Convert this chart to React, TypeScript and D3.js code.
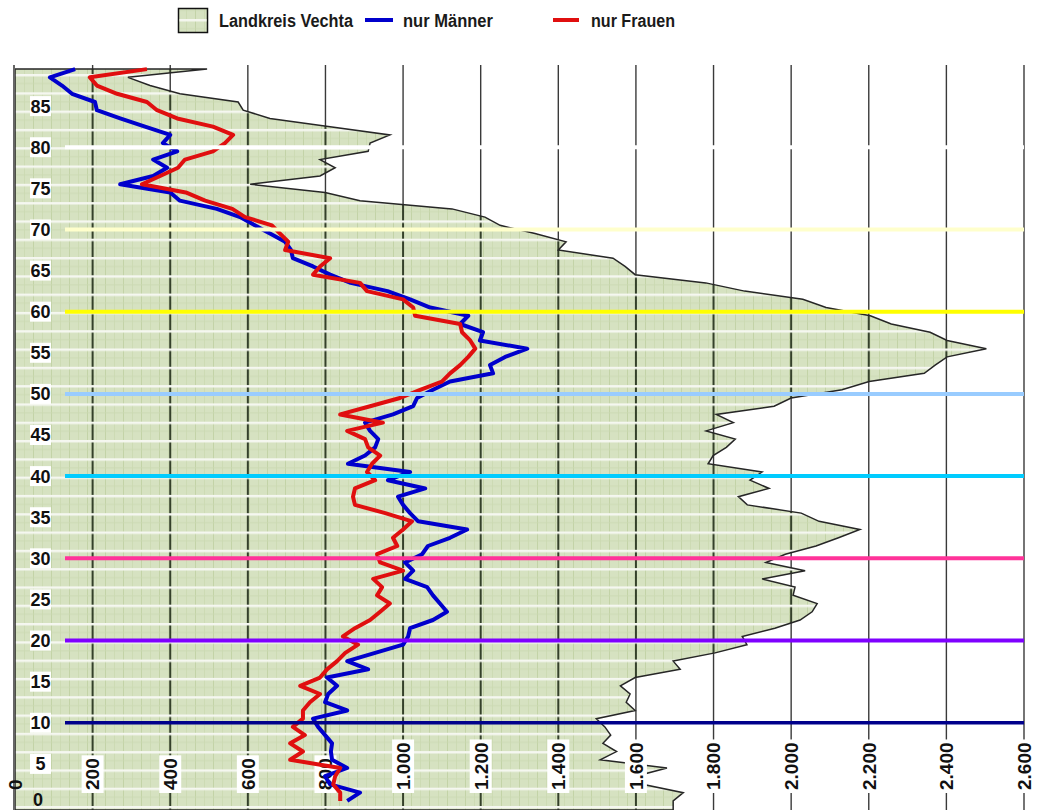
import React from 'react';
import * as d3 from 'd3';

// Altersjahre 0..89 (Einwohner je Altersjahr)
const ages = d3.range(0, 90);

const gesamt = [
  1696, 1722, 1620, 1600, 1680, 1508, 1550, 1515, 1535, 1520,
  1498, 1598, 1575, 1585, 1560, 1598, 1714, 1696, 1804, 1886,
  1874, 1958, 2023, 2054, 2067, 2005, 2010, 1925, 2036, 1935,
  1985, 2064, 2122, 2177, 2072, 2026, 1887, 1864, 1943, 1894,
  1925, 1786, 1799, 1833, 1856, 1781, 1851, 1807, 1956, 2000,
  2131, 2201, 2343, 2371, 2402, 2503, 2402, 2358, 2258, 2204,
  2090, 2030, 1880, 1780, 1598, 1572, 1541, 1400, 1420, 1340,
  1250, 1211, 1126, 889, 799, 606, 786, 825, 786, 910,
  915, 966, 812, 657, 588, 575, 425, 348, 291, 495,
];

const maenner = [
  856, 889, 812, 799, 856, 817, 814, 817, 799, 781,
  768, 856, 799, 807, 830, 804, 910, 856, 928, 1000,
  1013, 1018, 1077, 1113, 1095, 1077, 1062, 1005, 1026, 1005,
  1049, 1064, 1121, 1165, 1039, 1018, 1000, 987, 1057, 961,
  1018, 858, 902, 928, 936, 915, 902, 974, 1026, 1036,
  1077, 1121, 1232, 1224, 1263, 1320, 1198, 1206, 1147, 1168,
  1070, 1018, 960, 865, 812, 768, 716, 711, 696, 657,
  618, 580, 520, 425, 400, 271, 356, 392, 356, 418,
  381, 400, 335, 271, 211, 206, 147, 121, 90, 155,
];

const frauen = [
  838, 838, 820, 825, 838, 709, 742, 709, 747, 716,
  742, 742, 760, 786, 735, 786, 804, 830, 851, 884,
  845, 876, 915, 941, 966, 933, 946, 923, 1000, 941,
  933, 985, 974, 1000, 1023, 954, 876, 871, 876, 928,
  907, 920, 941, 910, 902, 856, 948, 838, 915, 992,
  1044, 1100, 1121, 1147, 1168, 1186, 1173, 1152, 1147, 1031,
  1026, 1000, 907, 889, 768, 786, 812, 696, 704, 683,
  662, 593, 560, 490, 440, 327, 374, 420, 438, 510,
  541, 562, 510, 418, 366, 340, 263, 211, 193, 340,
];

const xTicks = d3.range(0, 2601, 200);
const ageTicks = d3.range(0, 90, 5);
const refAges = [10, 20, 30, 40, 50, 60, 70, 80];
const refColors = ['#00008b', '#7f00ff', '#ff3399', '#00ccff', '#99ccff', '#ffff00', '#ffffcc', '#ffffff'];

const de = d3.formatLocale({ decimal: ',', thousands: '.', grouping: [3], currency: ['', ' €'] });
const fmt = de.format(',');

export default function App() {
  const width = 1037;
  const height = 810;
  const x = d3.scaleLinear().domain([0, 2600]).range([15, 1024]);
  const y = d3.scaleLinear().domain([0, 90]).range([805, 65]);

  const pts = ages.map(a => ({ a: a + 0.5, v: gesamt[a] }));
  const areaPts = [{ a: -0.6, v: gesamt[0] }, ...pts];
  const area = d3.area<{ a: number; v: number }>()
    .x0(x(0))
    .x1(d => x(d.v))
    .y(d => y(d.a));
  const areaD = area(areaPts) || '';

  const line = d3.line<number>()
    .x(v => x(v))
    .y((_, i) => y(i + 0.5));

  const font = 'Arial, "Liberation Sans", sans-serif';

  return (
    <svg width={width} height={height} style={{ position: 'absolute', left: 0, top: 0, background: '#fff' }}>
      <defs>
        <pattern id="base" patternUnits="userSpaceOnUse" width={18} height={18.3} x={15} y={806}>
          <rect width={18} height={18.3} fill="#d6e2c1" />
          <line x1={0.5} x2={0.5} y1={0} y2={18.3} stroke="#c3d3a7" strokeWidth={1} />
          <line x1={9.5} x2={9.5} y1={0} y2={18.3} stroke="#cbd9b2" strokeWidth={0.8} />
          <line x1={0} x2={18} y1={9.5} y2={9.5} stroke="#cad8b0" strokeWidth={0.8} />
        </pattern>
        <pattern id="stripes" patternUnits="userSpaceOnUse" width={18} height={18.3} x={15} y={806}>
          <rect x={0} y={0} width={18} height={2.4} fill="#f5f7f0" />
        </pattern>
        <clipPath id="areaClip">
          <path d={areaD} />
        </clipPath>
      </defs>

      {/* solid grid lines */}
      <g>
        {xTicks.filter(t => t > 0).map(t => (
          <line key={t} x1={x(t)} x2={x(t)} y1={65} y2={810} stroke="#3a3a3a" strokeWidth={1.4} />
        ))}
      </g>

      {/* Landkreis Vechta area */}
      <path d={areaD} fill="url(#base)" />
      <g clipPath="url(#areaClip)">
        {xTicks.filter(t => t > 0).map(t => (
          <line key={t} x1={x(t)} x2={x(t)} y1={65} y2={810} stroke="#34402a" strokeWidth={2} />
        ))}
        <rect x={0} y={0} width={width} height={height} fill="url(#stripes)" />
      </g>
      <path d={areaD} fill="none" stroke="#262626" strokeWidth={1.5} strokeLinejoin="miter" />

      {/* left axis */}
      <line x1={14} x2={14} y1={65} y2={810} stroke="#666" strokeWidth={2} />

      {/* x tick labels, rotated */}
      <g fontFamily={font} fontWeight="bold" fontSize={19} fill="#111">
        {xTicks.map(t => {
          const s = fmt(t);
          const len = s.split('').reduce((acc, c) => acc + (c === '.' ? 0.278 : 0.556), 0) * 19;
          return (
            <g key={t}>
              {t > 0 && (
                <rect x={x(t) - 11} y={790 - len - 3} width={22} height={len + 6} fill="#fff" />
              )}
              <text transform={`translate(${x(t)},790) rotate(-90)`} dy="0.36em">{s}</text>
            </g>
          );
        })}
      </g>

      {/* series lines */}
      <path d={line(maenner) || ''} fill="none" stroke="#0000cc" strokeWidth={4} strokeLinejoin="round" />
      <path d={line(frauen) || ''} fill="none" stroke="#e00f0f" strokeWidth={4} strokeLinejoin="round" />

      {/* age reference lines */}
      <g>
        {refAges.map((a, i) => (
          <line key={a} x1={65} x2={1024} y1={y(a)} y2={y(a)} stroke={refColors[i]} strokeWidth={a === 10 ? 3.5 : 4} />
        ))}
      </g>

      {/* age labels */}
      <g fontFamily={font} fontWeight="bold" fontSize={18} fill="#111" textAnchor="middle">
        {ageTicks.map(a => (
          <g key={a}>
            {a > 0 && <rect x={30} y={y(a) - 10} width={21} height={20} fill="#fff" />}
            <text x={a > 0 ? 40.5 : 38} y={a > 0 ? y(a) : y(a) - 5} dy="0.36em">{a}</text>
          </g>
        ))}
      </g>

      {/* legend */}
      <g fontFamily={font} fontWeight="bold" fontSize={18} fill="#1a1a1a">
        <rect x={178.5} y={8.5} width={29} height={24} fill="url(#base)" stroke="#111" strokeWidth={1.5} />
        <rect x={179.5} y={19} width={27} height={2.5} fill="#f4f6ee" />
        <text x={219} y={27} textLength={134} lengthAdjust="spacingAndGlyphs">Landkreis Vechta</text>
        <line x1={365} x2={393} y1={20} y2={20} stroke="#0000cc" strokeWidth={4} />
        <text x={403} y={27} textLength={90} lengthAdjust="spacingAndGlyphs">nur Männer</text>
        <line x1={553} x2={579} y1={20} y2={20} stroke="#e00f0f" strokeWidth={4} />
        <text x={591} y={27} textLength={84} lengthAdjust="spacingAndGlyphs">nur Frauen</text>
      </g>
    </svg>
  );
}
